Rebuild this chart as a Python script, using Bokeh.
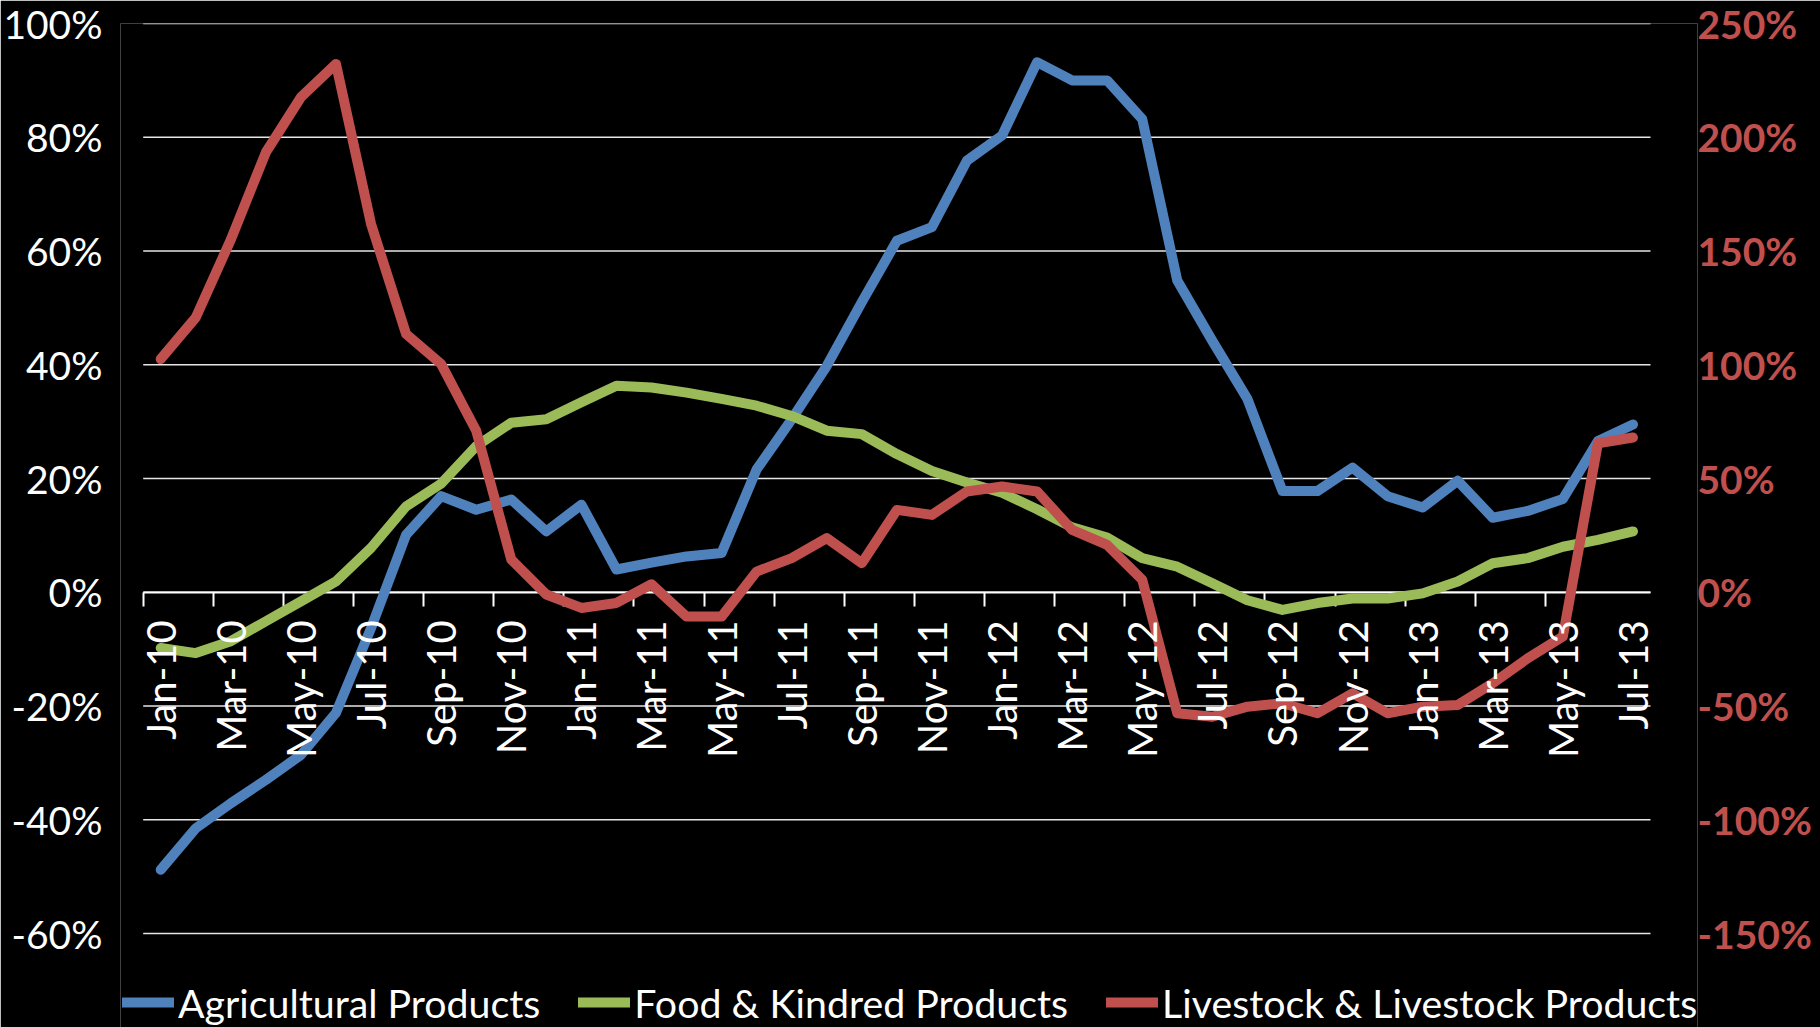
import math
from bokeh.plotting import figure
from bokeh.models import (Range1d, LinearAxis, FixedTicker, NumeralTickFormatter,
                          Grid, Legend, LegendItem, ColumnDataSource)
from bokeh.core.properties import value
from bokeh.embed import file_html
from bokeh.resources import INLINE

# ---------------- data ----------------
months = ["Jan-10", "Feb-10", "Mar-10", "Apr-10", "May-10", "Jun-10", "Jul-10", "Aug-10",
          "Sep-10", "Oct-10", "Nov-10", "Dec-10", "Jan-11", "Feb-11", "Mar-11", "Apr-11",
          "May-11", "Jun-11", "Jul-11", "Aug-11", "Sep-11", "Oct-11", "Nov-11", "Dec-11",
          "Jan-12", "Feb-12", "Mar-12", "Apr-12", "May-12", "Jun-12", "Jul-12", "Aug-12",
          "Sep-12", "Oct-12", "Nov-12", "Dec-12", "Jan-13", "Feb-13", "Mar-13", "Apr-13",
          "May-13", "Jun-13", "Jul-13"]

# left axis (share)
agricultural = [-0.488, -0.415, -0.371, -0.330, -0.286, -0.212, -0.063, 0.101, 0.169, 0.145,
                0.163, 0.107, 0.154, 0.040, 0.052, 0.063, 0.069, 0.216, 0.304, 0.398,
                0.510, 0.618, 0.642, 0.759, 0.803, 0.932, 0.900, 0.900, 0.832, 0.548,
                0.442, 0.340, 0.178, 0.178, 0.219, 0.169, 0.149, 0.196, 0.131, 0.143,
                0.164, 0.266, 0.295]
food = [-0.098, -0.107, -0.086, -0.051, -0.016, 0.019, 0.078, 0.151, 0.191, 0.257,
        0.298, 0.304, 0.334, 0.363, 0.360, 0.351, 0.340, 0.328, 0.310, 0.284,
        0.278, 0.243, 0.213, 0.193, 0.175, 0.146, 0.114, 0.096, 0.060, 0.045,
        0.016, -0.014, -0.031, -0.019, -0.011, -0.011, -0.002, 0.019, 0.051, 0.060,
        0.080, 0.092, 0.107]
# right axis (share)
livestock = [1.025, 1.208, 1.550, 1.934, 2.176, 2.322, 1.619, 1.135, 1.003, 0.710,
             0.144, -0.010, -0.069, -0.047, 0.035, -0.107, -0.107, 0.091, 0.150, 0.238,
             0.128, 0.362, 0.340, 0.443, 0.465, 0.443, 0.274, 0.208, 0.055, -0.532,
             -0.547, -0.503, -0.488, -0.532, -0.444, -0.532, -0.503, -0.496, -0.400, -0.290,
             -0.195, 0.655, 0.680]

left_ticks = [-0.6, -0.4, -0.2, 0.0, 0.2, 0.4, 0.6, 0.8, 1.0]
right_ticks = [-1.5, -1.0, -0.5, 0.0, 0.5, 1.0, 1.5, 2.0, 2.5]
series_names = ["Agricultural Products", "Food & Kindred Products", "Livestock & Livestock Products"]
colors = ["#4F81BD", "#9BBB59", "#C0504D"]

# ---------------- layout (pixels) ----------------
FONT = "Lato"
AXIS_FS = "39px"
TEXT_FS = "40px"
LEGEND_FS = "39.3px"
W, H = 1820, 1027
FRAME_L, FRAME_R, FRAME_T = 120, 1697, 23       # drawing frame (wider than plot area, holds legend)
AREA_L, AREA_R, AREA_B = 142.7, 1650, 933       # plot area of the original chart

n = len(months)
cat_px = (AREA_R - AREA_L) / n                   # pixels per category
x_start = -0.5 - (AREA_L - FRAME_L) / cat_px
x_end = n - 0.5 + (FRAME_R - AREA_R) / cat_px
px_per_unit = (AREA_B - FRAME_T) / (left_ticks[-1] - left_ticks[0])
y_start = left_ticks[-1] - (H - FRAME_T) / px_per_unit
ratio = (right_ticks[-1] - right_ticks[0]) / (left_ticks[-1] - left_ticks[0])
yr_start = right_ticks[-1] - (left_ticks[-1] - y_start) * ratio

idx = list(range(n))
src = ColumnDataSource(dict(x=idx, agri=agricultural, food=food, live=livestock))

label_idx = idx[::2]
label_src = ColumnDataSource(dict(x=label_idx, y=[0.0] * len(label_idx),
                                  text=[months[i] for i in label_idx]))
boundaries = [i - 0.5 for i in label_idx[:-1]]
grid_src = ColumnDataSource(dict(x0=[-0.5] * len(left_ticks), x1=[n - 0.5] * len(left_ticks),
                                 y=left_ticks))

p = figure(width=W, height=H, output_backend="svg", toolbar_location=None,
           x_axis_location=None, y_axis_location=None,
           x_range=Range1d(x_start, x_end),
           y_range=Range1d(y_start, left_ticks[-1]),
           min_border_left=FRAME_L, min_border_right=W - FRAME_R,
           min_border_top=FRAME_T, min_border_bottom=0,
           background_fill_color="black", border_fill_color="black",
           outline_line_color=None)
p.extra_y_ranges = {"right": Range1d(yr_start, right_ticks[-1])}
p.center = [r for r in p.center if not isinstance(r, Grid)]

# left axis
la = LinearAxis(ticker=FixedTicker(ticks=left_ticks), formatter=NumeralTickFormatter(format="0%"))
la.axis_line_color = None
la.major_tick_line_color = None
la.major_tick_out = 0
la.major_tick_in = 0
la.minor_tick_line_color = None
la.major_label_text_color = "white"
la.major_label_text_font = FONT
la.major_label_text_font_size = AXIS_FS
la.major_label_standoff = 18
p.add_layout(la, "left")

# right axis
ra = LinearAxis(y_range_name="right", ticker=FixedTicker(ticks=right_ticks),
                formatter=NumeralTickFormatter(format="0%"))
ra.axis_line_color = None
ra.major_tick_line_color = None
ra.major_tick_out = 0
ra.major_tick_in = 0
ra.minor_tick_line_color = None
ra.major_label_text_color = "#C0504D"
ra.major_label_text_font = FONT
ra.major_label_text_font_style = "bold"
ra.major_label_text_font_size = AXIS_FS
ra.major_label_standoff = 0
p.add_layout(ra, "right")

# horizontal gridlines across the plot area only
p.segment(x0="x0", x1="x1", y0="y", y1="y", source=grid_src,
          line_color="#E6E6E6", line_width=1.5, level="underlay")

# category axis line at zero with tick marks hanging down
xa = LinearAxis(ticker=FixedTicker(ticks=boundaries), fixed_location=0,
                bounds=(-0.5, n - 0.5))
xa.level = "underlay"
xa.axis_line_color = "white"
xa.axis_line_width = 2
xa.major_tick_line_color = "white"
xa.major_tick_line_width = 2
xa.major_tick_in = 14
xa.major_tick_out = 0
xa.minor_tick_line_color = None
xa.major_label_overrides = {b: "" for b in boundaries}
xa.major_label_text_font_size = "0px"
xa.major_label_standoff = 0
p.add_layout(xa, "above")

# series
line_kw = dict(line_width=10, line_cap="round", line_join="round")
r1 = p.line("x", "agri", source=src, line_color=colors[0], **line_kw)
r2 = p.line("x", "food", source=src, line_color=colors[1], **line_kw)
r3 = p.line("x", "live", source=src, line_color=colors[2], y_range_name="right", **line_kw)

# category labels, rotated
p.text(x="x", y="y", text="text", source=label_src, angle=math.pi / 2,
       text_align="right", text_baseline="middle", y_offset=28,
       text_font=value(FONT), text_font_size=TEXT_FS, text_color="white")

legend = Legend(items=[LegendItem(label=series_names[0], renderers=[r1]),
                       LegendItem(label=series_names[1], renderers=[r2]),
                       LegendItem(label=series_names[2], renderers=[r3])],
                orientation="horizontal", location=(2, 0),
                label_text_font=FONT, label_text_font_size=LEGEND_FS, label_text_color="white",
                glyph_width=52, glyph_height=50, label_standoff=4, spacing=38,
                padding=0, margin=0, background_fill_alpha=0, border_line_alpha=0)
p.add_layout(legend)

open("out.html", "w").write(file_html(p, INLINE))
